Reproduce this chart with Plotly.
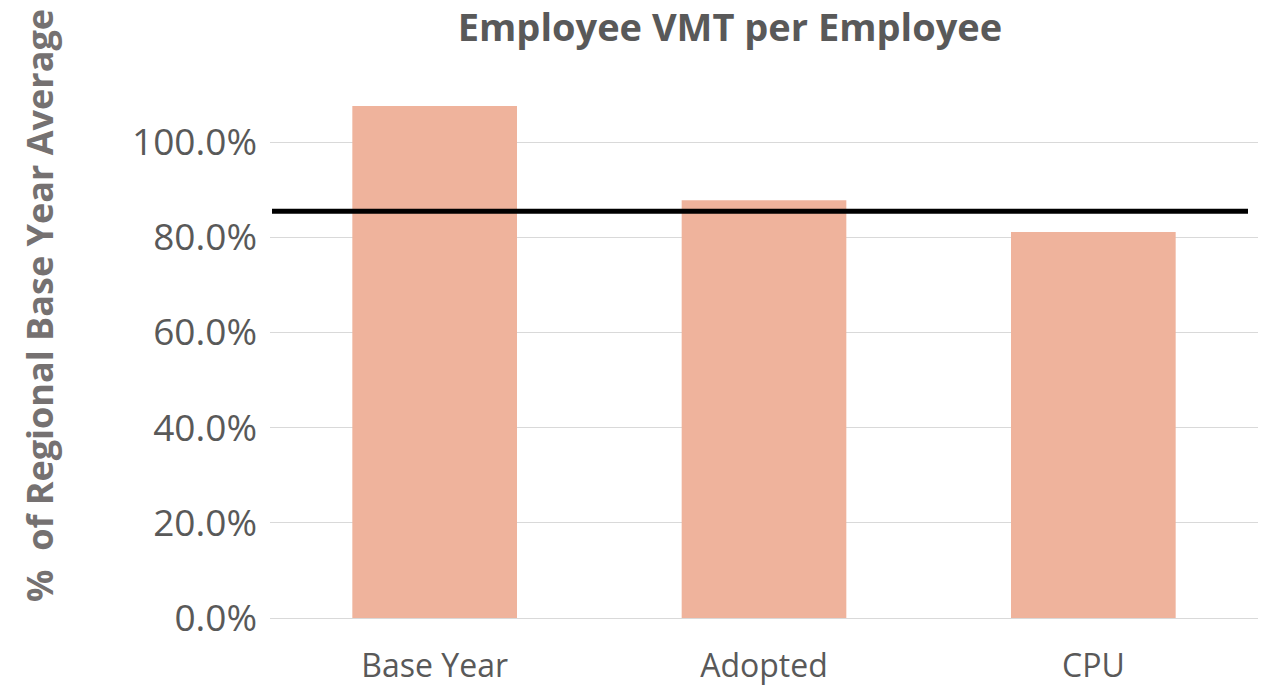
import plotly.graph_objects as go

categories = ["Base Year", "Adopted", "CPU"]
values = [1.076, 0.878, 0.811]
threshold = 0.855
tick_vals = [0, 0.2, 0.4, 0.6, 0.8, 1.0]
tick_text = ["0.0%", "20.0%", "40.0%", "60.0%", "80.0%", "100.0%"]

W, H = 1266, 694
L, R, T, B = 270, 8, 47, 76

fig = go.Figure()
fig.add_trace(go.Bar(
    x=categories, y=values, width=0.5,
    marker=dict(color="#EFB39C", line=dict(width=0)),
    hoverinfo="x+y",
))
fig.add_shape(type="line", xref="paper", yref="y", x0=(272 - L) / (W - L - R),
              x1=(1248 - L) / (W - L - R),
              y0=threshold, y1=threshold, line=dict(color="black", width=5))

fig.update_layout(
    width=W, height=H,
    margin=dict(l=L, r=R, t=T, b=B),
    paper_bgcolor="white", plot_bgcolor="white",
    font=dict(family="Open Sans", color="#595959"),
    showlegend=False,
    title=dict(text="<b>Employee VMT per Employee</b>", x=730 / W, xanchor="center",
               y=1 - 28 / H, yanchor="middle", xref="container", yref="container",
               font=dict(size=38, color="#595959")),
    xaxis=dict(tickfont=dict(size=32, color="#595959"), showline=False, showgrid=False,
               ticks="", ticklabelstandoff=26),
    yaxis=dict(range=[0, 1.2], tickvals=tick_vals, ticktext=tick_text,
               tickfont=dict(size=37, color="#595959"), showgrid=True, gridcolor="#D9D9D9",
               gridwidth=1, zeroline=True, zerolinecolor="#D9D9D9", zerolinewidth=1,
               showline=False, ticks="", ticklabelstandoff=12),
    annotations=[dict(text="<b>%  of Regional Base Year Average</b>", xref="paper", yref="paper",
                      x=-(L - 39) / (W - L - R), y=(H - B - 306) / (H - B - T),
                      xanchor="center", yanchor="middle", textangle=-90, showarrow=False,
                      font=dict(size=36, color="#757171"))],
)

fig.write_html("out.html", config={"displayModeBar": False},
               post_script="document.body.style.margin='0';")
